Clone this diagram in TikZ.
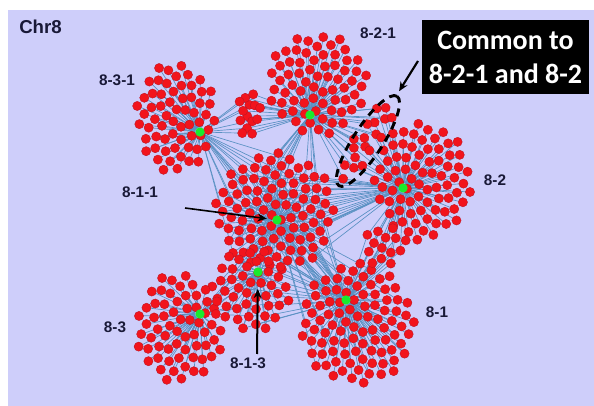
\documentclass[tikz,border=0pt]{standalone}
\usepackage{fontspec}
\setmainfont{Liberation Sans}
\newfontfamily\notefont{Carlito}
\usetikzlibrary{shapes.geometric,arrows.meta}

\pgfdeclarelayer{top}
\pgfsetlayers{main,top}

\definecolor{panel}{RGB}{206,206,250}
\definecolor{genered}{RGB}{242,20,28}
\definecolor{generim}{RGB}{190,20,35}
\definecolor{hubgreen}{RGB}{25,235,45}
\definecolor{linkblue}{RGB}{90,145,195}
\definecolor{ink}{RGB}{25,25,55}

\tikzset{every picture/.style={line width=0.75pt},
  gene/.style={fill=genered, draw=generim, line width=0.3pt},
  hub/.style={circle, fill=hubgreen, inner sep=0pt, minimum size=7pt},
  linkline/.style={draw=linkblue, line width=0.5pt},
  lbl/.style={text=ink, font=\fontsize{11.5}{13}\selectfont\bfseries, inner sep=0.75pt},
  pointer/.style={draw=black, line width=1.2pt, -{Stealth[length=7pt,width=6pt]}},
  common/.style={ellipse, draw=black, line width=2.2pt, dash pattern=on 6pt off 4.5pt,
    minimum width=80pt, minimum height=22pt, inner sep=0pt}
}

% links from hub #1 to every #7-th gene of a sunflower fan
\newcommand\links[7]{%
  \foreach \k in {1,...,#4}{
    \pgfmathtruncatemacro\mm{mod(\k,#7)}
    \ifnum\mm=0
      \pgfmathsetmacro\px{#2+#5*sqrt(\k-0.5)*cos(137.508*\k)}
      \pgfmathsetmacro\py{#3+#6*sqrt(\k-0.5)*sin(137.508*\k)}
      \draw[linkline] (#1) -- (\px,\py);
    \fi
  }}
% the genes of a fan
\newcommand\genes[5]{%
  \foreach \k in {1,...,#3}{
    \pgfmathsetmacro\px{#1+#4*sqrt(\k-0.5)*cos(137.508*\k)}
    \pgfmathsetmacro\py{#2+#5*sqrt(\k-0.5)*sin(137.508*\k)}
    \fill[gene] (\px,\py) circle (4.6);
  }}

\begin{document}
\begin{tikzpicture}[x=0.75pt,y=0.75pt,yscale=-1,xscale=1]
\useasboundingbox (0,0) rectangle (594,406);

\fill[white] (0,0) rectangle (594,406);
\fill[panel] (8,10) rectangle (594,406);

%Hubs
\begin{pgfonlayer}{top}
\node[hub] (h831) at (200,132) {};
\node[hub] (h821) at (310,115) {};
\node[hub] (h82) at (403,188) {};
\node[hub] (h811) at (277,220) {};
\node[hub] (h813) at (258,272) {};
\node[hub] (h83) at (200,314) {};
\node[hub] (h81) at (346,300) {};
\end{pgfonlayer}

%Links
\links{h831}{176}{118}{62}{5.2}{7.0}{1}
\links{h821}{317}{84}{68}{6.06}{6.3}{1}
\links{h821}{249}{113}{14}{3.2}{6.7}{1}
\links{h82}{422}{181}{76}{5.62}{6.88}{1}
\links{h811}{275}{212}{94}{6.2}{6.2}{1}
\links{h813}{250}{290}{45}{6.2}{6.2}{1}
\links{h83}{180}{328}{64}{5.5}{7.0}{1}
\links{h81}{357}{324}{92}{6.05}{6.36}{1}
\links{h82}{385}{245}{14}{6.0}{6.0}{1}
%Shared genes
\begin{scope}[shift={(367,141)}, rotate=-57]
\links{h821}{0}{0}{18}{11.0}{3.2}{1}
\links{h82}{0}{0}{18}{11.0}{3.2}{1}
\end{scope}
\links{h831}{249}{113}{14}{3.2}{6.7}{2}
\links{h81}{385}{245}{14}{6.0}{6.0}{1}
\links{h831}{275}{212}{94}{6.2}{6.2}{6}
\links{h821}{275}{212}{94}{6.2}{6.2}{7}
\links{h82}{275}{212}{94}{6.2}{6.2}{4}
\links{h81}{275}{212}{94}{6.2}{6.2}{5}
\links{h81}{250}{290}{45}{6.2}{6.2}{4}
\links{h811}{250}{290}{45}{6.2}{6.2}{5}
\links{h83}{250}{290}{45}{6.2}{6.2}{6}
\links{h811}{357}{324}{92}{6.05}{6.36}{6}

%Genes
\genes{176}{118}{62}{5.2}{7.0}
\genes{317}{84}{68}{6.06}{6.3}
\genes{249}{113}{14}{3.2}{6.7}
\genes{422}{181}{76}{5.62}{6.88}
\genes{275}{212}{94}{6.2}{6.2}
\genes{250}{290}{45}{6.2}{6.2}
\genes{180}{328}{64}{5.5}{7.0}
\genes{357}{324}{92}{6.05}{6.36}
\genes{385}{245}{14}{6.0}{6.0}
\begin{scope}[shift={(367,141)}, rotate=-57]
\genes{0}{0}{18}{11.0}{3.2}
\end{scope}

%Shape: Ellipse
\node[common, rotate=57] (shared) at (368,141) {};

% Text Node
\node[fill=black, text=white, align=center, inner sep=0pt,
  minimum width=125.25pt, minimum height=55.5pt,
  font=\notefont\fontsize{21}{25.5}\selectfont\bfseries] (note) at (505.5,57) {Common to\\8-2-1 and 8-2};
% Text Node
\node[lbl, anchor=west, font=\fontsize{14}{16}\selectfont\bfseries] (chr) at (18,27) {Chr8};
% Text Node
\node[lbl] (l831) at (117,80) {8-3-1};
% Text Node
\node[lbl] (l821) at (378,33) {8-2-1};
% Text Node
\node[lbl] (l82) at (495,180) {8-2};
% Text Node
\node[lbl] (l811) at (140,192) {8-1-1};
% Text Node
\node[lbl] (l83) at (115,327) {8-3};
% Text Node
\node[lbl] (l813) at (248,363) {8-1-3};
% Text Node
\node[lbl] (l81) at (437,312) {8-1};

%Straight Lines
\coordinate (t1) at (418,61);
\coordinate (t2) at (185,208);
\coordinate (t3) at (257,354);
\draw[pointer, line width=1.6pt, shorten >=3pt] (t1) -- (shared);
\draw[pointer, shorten >=4pt] (t2) -- (h811);
\draw[pointer, line width=1.5pt, shorten >=9pt] (t3) -- (h813);

\end{tikzpicture}
\end{document}
